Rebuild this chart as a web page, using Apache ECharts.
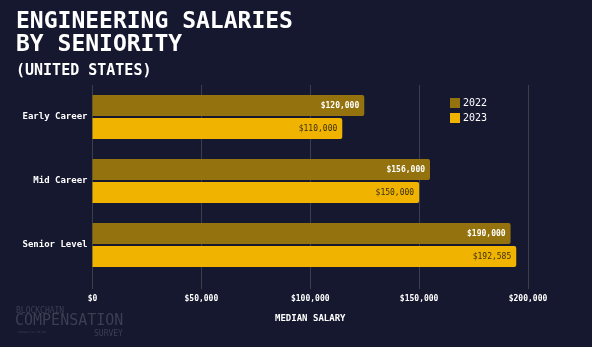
<!DOCTYPE html>
<html><head><meta charset="utf-8">
<script src="https://cdn.jsdelivr.net/npm/echarts@6/dist/echarts.min.js"></script>
<style>html,body{margin:0;padding:0;background:#161830;}#c{width:592px;height:347px;}</style>
</head><body><div id="c"></div>
<script>
const categories = ['Early Career', 'Mid Career', 'Senior Level'];
const seriesNames = ['2022', '2023'];
const values2022 = [124800, 155000, 192000];
const values2023 = [114700, 150000, 194600];
const labels2022 = ['$120,000', '$156,000', '$190,000'];
const labels2023 = ['$110,000', '$150,000', '$192,585'];
const xTicks = [0, 50000, 100000, 150000, 200000];

const mono = '"DejaVu Sans Mono", "Liberation Mono", monospace';
const chart = echarts.init(document.getElementById('c'), null, {renderer: 'canvas'});
function fmt(v){ return '$' + v.toLocaleString('en-US'); }
chart.setOption({
  backgroundColor: '#161830',
  animation: false,
  title: [
    {text: 'ENGINEERING SALARIES\nBY SENIORITY', left: 11, top: 6,
     textStyle: {color: '#ffffff', fontFamily: mono, fontWeight: 'bold', fontSize: 23, lineHeight: 23,
       textShadowColor: 'rgba(255,40,90,0.7)', textShadowOffsetX: -1, textShadowBlur: 0}},
    {text: '(UNITED STATES)', left: 11, top: 59,
     textStyle: {color: '#ffffff', fontFamily: mono, fontWeight: 'bold', fontSize: 15,
       textShadowColor: 'rgba(255,40,90,0.6)', textShadowOffsetX: -1, textShadowBlur: 0}}
  ],
  legend: {
    orient: 'vertical', left: 445, top: 93, itemWidth: 10, itemHeight: 10, itemGap: 5,
    icon: 'rect', data: seriesNames,
    textStyle: {color: '#ffffff', fontFamily: mono, fontSize: 10, padding: [0,0,0,-2]}
  },
  grid: {left: 92.5, right: 64, top: 85, bottom: 70, containLabel: false},
  xAxis: {
    type: 'value', min: 0, max: 200000, interval: 50000,
    name: 'MEDIAN SALARY', nameLocation: 'middle', nameGap: 37,
    nameTextStyle: {color: '#ffffff', fontFamily: mono, fontWeight: 'bold', fontSize: 9},
    axisLine: {show: false},
    axisTick: {show: true, length: 12, lineStyle: {color: '#3b3d4a', width: 1}},
    splitLine: {show: true, lineStyle: {color: '#3b3d4a', width: 1}},
    axisLabel: {color: '#ffffff', fontFamily: mono, fontWeight: 'bold', fontSize: 8, margin: 18,
      formatter: v => xTicks.includes(v) ? fmt(v) : ''}
  },
  yAxis: {
    type: 'category', data: categories, inverse: true,
    axisLine: {show: false}, axisTick: {show: false},
    axisLabel: {color: '#ffffff', fontFamily: mono, fontWeight: 'bold', fontSize: 9, margin: 5}
  },
  series: [
    {name: '2022', type: 'bar', data: values2022, barWidth: 21, barGap: '10%',
     itemStyle: {color: '#94730f', borderRadius: [0,2,2,0]},
     label: {show: true, position: 'insideRight', distance: 5, color: '#ffffff', fontFamily: mono, fontWeight: 'bold', fontSize: 8,
       formatter: p => labels2022[p.dataIndex]}},
    {name: '2023', type: 'bar', data: values2023, barWidth: 21, barGap: '10%',
     itemStyle: {color: '#f0b400', borderRadius: [0,2,2,0]},
     label: {show: true, position: 'insideRight', distance: 5, color: '#3a2f10', fontFamily: mono, fontSize: 8,
       formatter: p => labels2023[p.dataIndex]}}
  ],
  graphic: [
    {type: 'text', left: 16, top: 307, style: {text: 'BLOCKCHAIN', fill: '#3c3e52', font: '8px ' + mono}},
    {type: 'text', left: 15, top: 314, style: {text: 'COMPENSATION', fill: '#3c3e52', font: '15px ' + mono}},
    {type: 'text', left: 17, top: 331, style: {text: '/dumper/ur/Ut/de', fill: '#3c3e52', font: '3px ' + mono}},
    {type: 'text', left: 94, top: 330, style: {text: 'SURVEY', fill: '#3c3e52', font: '8px ' + mono}}
  ]
});
</script></body></html>
